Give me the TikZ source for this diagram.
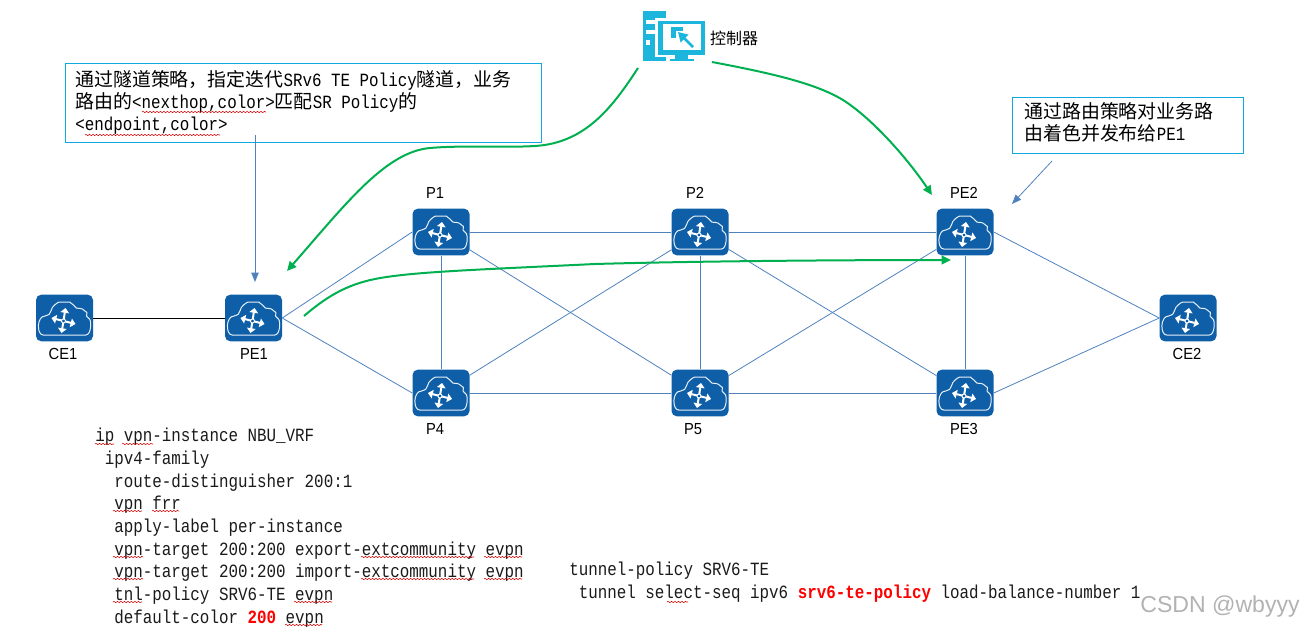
\documentclass[tikz,border=0pt]{standalone}
\usepackage{fontspec}
\setmainfont{Liberation Sans}
\setmonofont[FakeStretch=0.85]{Liberation Mono}
\newfontfamily\cjk{Noto Sans CJK SC}
\newfontfamily\lab[FakeStretch=0.92]{Liberation Sans}
\usetikzlibrary{arrows.meta,decorations.pathmorphing}
\definecolor{routerblue}{HTML}{0F5FA8}
\definecolor{linkblue}{HTML}{4F81BD}
\definecolor{flowgreen}{HTML}{00B050}
\definecolor{boxblue}{HTML}{12A8E0}
\definecolor{ctrlcyan}{HTML}{1CB6DC}
\definecolor{codegray}{HTML}{1A1A1A}
\newcommand{\hz}[1]{{\cjk\fontsize{14.2pt}{16.5pt}\selectfont #1}}
\newcommand{\redb}[1]{\textcolor{red}{\textbf{#1}}}
\newcommand{\squig}[3]{\draw[squigline] (#1,#3) -- (#2,#3);}
\tikzset{
  routerbox/.style={rounded corners=4pt,fill=routerblue,minimum width=42.75pt,minimum height=35pt,inner sep=0pt,
    path picture={
      \begin{scope}[shift={(path picture bounding box.center)},white]
        \draw[line width=.75pt,line join=round,draw=white!90!routerblue]
          (-16,17) .. controls (-28,17) and (-28,-2) .. (-14,-2)
          .. controls (-13,-12) and (-6,-16) .. (0,-16)
          .. controls (5,-16) and (9,-13) .. (11,-8)
          .. controls (18,-10) and (22,-5) .. (20,-1)
          .. controls (27,2) and (27,17) .. (16,17) -- cycle;
        \foreach \tx/\ty in {-13/0,11/6,1/-10,-3/15}{
          \draw[line width=1.5pt,-{Triangle[length=3.6pt,width=6.5pt]}] (-1,3) -- (\tx,\ty);
        }
        \fill[routerblue,draw=white,line width=.7pt] (-1,3) circle (2);
      \end{scope}
    }},
  routerlabel/.style={font=\lab\fontsize{12pt}{14pt}\selectfont,inner sep=0pt,text=black},
  linkline/.style={draw=linkblue,line width=.6pt},
  accessline/.style={draw=black,line width=.6pt},
  flowarrow/.style={draw=flowgreen,line width=1.5pt,-{Triangle[length=7pt,width=6.5pt]}},
  notearrow/.style={draw=linkblue,line width=.6pt,-{Triangle[length=7pt,width=5.5pt]}},
  notebox/.style={draw=boxblue,line width=.7pt,inner sep=0pt,anchor=north west},
  notetext/.style={font=\ttfamily\fontsize{14pt}{16.5pt}\selectfont,align=left,anchor=north west,inner sep=0pt,text=black},
  codetext/.style={font=\ttfamily\fontsize{14pt}{17pt}\selectfont,align=left,anchor=north west,inner sep=0pt,text=codegray},
  squigline/.style={draw=red!85!black,line width=.4pt,decorate,decoration={snake,segment length=2.6pt,amplitude=.5pt}},
  ctrlpart/.style={fill=ctrlcyan,draw=none},
}
\begin{document}
\begin{tikzpicture}[x=0.75pt,y=-0.75pt]
\useasboundingbox (0,0) rectangle (1304,628);

% routers
\node[routerbox] (CE1) at (64.5,318) {};
\node[routerbox] (PE1) at (253.5,318) {};
\node[routerbox] (P1) at (441,232) {};
\node[routerbox] (P2) at (700,232) {};
\node[routerbox] (PE2) at (965,232) {};
\node[routerbox] (P4) at (441,393) {};
\node[routerbox] (P5) at (700,393) {};
\node[routerbox] (PE3) at (965,393) {};
\node[routerbox] (CE2) at (1188,318) {};

% links
\draw[accessline] (CE1) -- (PE1);
\draw[linkline] (PE1.east) -- (P1.west);
\draw[linkline] (PE1.east) -- (P4.west);
\draw[linkline] (P1) -- (P2);
\draw[linkline] (P1) -- (P4);
\draw[linkline] (P1) -- (P5);
\draw[linkline] (P2) -- (P4);
\draw[linkline] (P2) -- (P5);
\draw[linkline] (P2) -- (PE2);
\draw[linkline] (P2) -- (PE3);
\draw[linkline] (P4) -- (P5);
\draw[linkline] (P5) -- (PE2);
\draw[linkline] (P5) -- (PE3);
\draw[linkline] (PE2) -- (PE3);
\draw[linkline] (PE2.east) -- (CE2.west);
\draw[linkline] (PE3.east) -- (CE2.west);

% router labels
\node[routerlabel] (lP1) at (435,193) {P1};
\node[routerlabel] (lP2) at (695,193) {P2};
\node[routerlabel] (lPE2) at (964,193) {PE2};
\node[routerlabel] (lCE1) at (63,354) {CE1};
\node[routerlabel] (lPE1) at (254,354) {PE1};
\node[routerlabel] (lCE2) at (1187,354) {CE2};
\node[routerlabel] (lP4) at (435,429) {P4};
\node[routerlabel] (lP5) at (693,429) {P5};
\node[routerlabel] (lPE3) at (964,429) {PE3};

% controller
\node[minimum width=46.5pt,minimum height=38pt,inner sep=0pt] (ctrl) at (674,36) {};
\fill[ctrlpart] (643,11) rectangle (666,61);
\fill[white] (646,20) rectangle (655,24);
\fill[white] (646,30) rectangle (655,34);
\fill[white] (646,40) rectangle (650,45);
\fill[white] (655,18) rectangle (707,57);
\fill[ctrlpart] (658,21) rectangle (705,55);
\fill[white] (663,24) rectangle (701,50);
\fill[ctrlpart] (671,27) rectangle (683,38);
\fill[white] (676,31) rectangle (690,44);
\draw[ctrlcyan,line width=1.9pt,-{Triangle[width=8pt,length=7pt]}] (693,47) -- (678,32);
\fill[ctrlpart] (675,55) rectangle (688,58.5);
\fill[ctrlpart] (670,58.5) rectangle (694,61);
\node[font=\cjk\fontsize{12pt}{14pt}\selectfont,inner sep=0pt] (ctrllabel) at (734,38) {控制器};

% note boxes
\node[notebox,minimum width=357pt,minimum height=59.25pt] (note1) at (65,63) {};
\node[notetext] (note1t) at (75,70) {\hz{通过隧道策略，指定迭代}SRv6 TE Policy\hz{隧道，业务}\\\hz{路由的}<nexthop,color>\hz{匹配}SR Policy\hz{的}\\<endpoint,color>};
\node[notebox,minimum width=173.25pt,minimum height=42pt] (note2) at (1012,97) {};
\node[notetext] (note2t) at (1024,102) {\hz{通过路由策略对业务路}\\\hz{由着色并发布给}PE1};

% arrows
\coordinate (c1) at (638,68);
\coordinate (t1) at (287,271);
\draw[flowarrow] (c1) .. controls (612,108) and (585,143) .. (535,146)
  .. controls (500,148) and (465,145) .. (430,148)
  .. controls (385,152) and (345,205) .. (t1);
\coordinate (c2) at (712,62);
\coordinate (t2) at (932,195);
\draw[flowarrow] (c2) .. controls (770,73) and (815,83) .. (843,100)
  .. controls (870,117) and (905,155) .. (t2);
\coordinate (c3) at (304,316);
\coordinate (t3) at (951,260);
\draw[flowarrow] (c3) .. controls (325,298) and (345,285) .. (375,279)
  .. controls (410,272) and (470,270) .. (595,264)
  .. controls (700,261) and (850,260) .. (t3);
\coordinate (n1a) at (255,135);
\coordinate (n1b) at (255,282);
\draw[notearrow] (n1a) -- (n1b);
\coordinate (n2a) at (1052,161);
\coordinate (n2b) at (1012,204);
\draw[notearrow] (n2a) -- (n2b);

% config text
\node[codetext] (code1) at (95,428) {ip vpn-instance NBU\_VRF\\
\ ipv4-family\\
\ \ route-distinguisher 200:1\\
\ \ vpn frr\\
\ \ apply-label per-instance\\
\ \ vpn-target 200:200 export-extcommunity evpn\\
\ \ vpn-target 200:200 import-extcommunity evpn\\
\ \ tnl-policy SRV6-TE evpn\\
\ \ default-color \redb{200} evpn};
\node[codetext] (code2) at (569,562) {tunnel-policy SRV6-TE\\
\ tunnel select-seq ipv6 \redb{srv6-te-policy} load-balance-number 1};

% spell-check underlines
\squig{142}{266}{112}
\squig{85}{220}{135}
\squig{95}{114}{444}
\squig{122}{153}{444}
\squig{113}{142}{511}
\squig{152}{179}{511}
\squig{113}{143}{557}
\squig{361}{474}{557}
\squig{484}{522}{557}
\squig{113}{143}{579}
\squig{361}{474}{579}
\squig{484}{522}{579}
\squig{113}{142}{602}
\squig{294}{332}{602}
\squig{285}{322}{625}
\squig{667}{688}{602}

% watermark
\node[font=\fontsize{17.3pt}{19pt}\selectfont,text=black!30,inner sep=0pt] (wm) at (1220,607) {CSDN @wbyyy};
\end{tikzpicture}
\end{document}
